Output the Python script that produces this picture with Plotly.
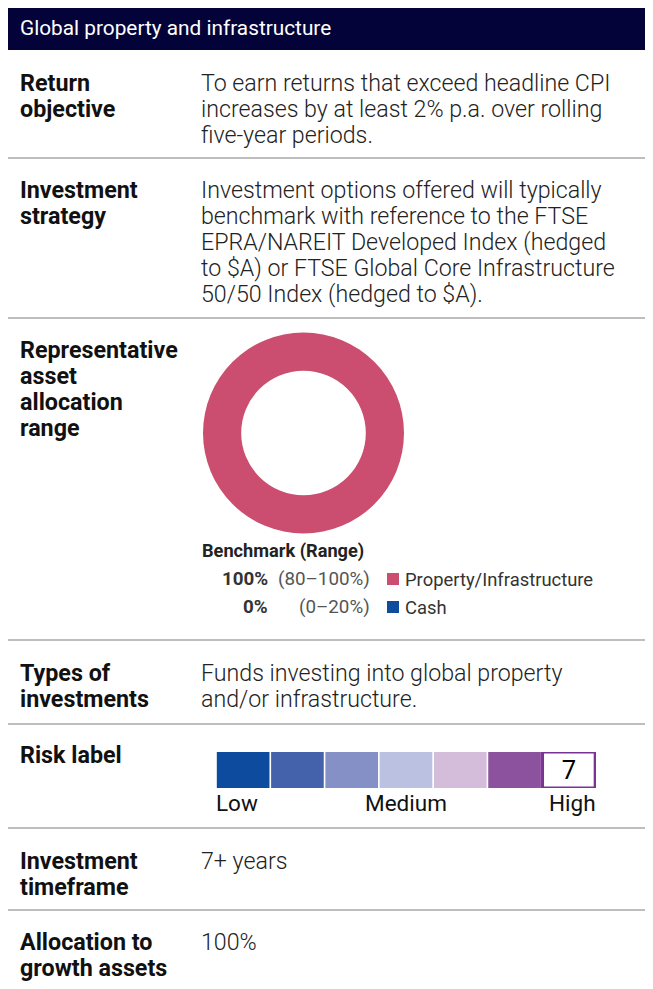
import plotly.graph_objects as go

W, H = 653, 989
OFF = 8  # page margin around the plot div
PAD = 2  # annotation inner padding

HEADER = "Global property and infrastructure"

row_labels = [
    ["Return", "objective"],
    ["Investment", "strategy"],
    ["Representative", "asset", "allocation", "range"],
    ["Types of", "investments"],
    ["Risk label"],
    ["Investment", "timeframe"],
    ["Allocation to", "growth assets"],
]
row_values = [
    ["To earn returns that exceed headline CPI",
     "increases by at least 2% p.a. over rolling",
     "five-year periods."],
    ["Investment options offered will typically",
     "benchmark with reference to the FTSE",
     "EPRA/NAREIT Developed Index (hedged",
     "to $A) or FTSE Global Core Infrastructure",
     "50/50 Index (hedged to $A)."],
    [],
    ["Funds investing into global property",
     "and/or infrastructure."],
    [],
    ["7+ years"],
    ["100%"],
]
row_first_line = [83, 190, 350, 673, 755, 861, 942]   # centre of first text line, px from top
LINE = 26
separators = [158, 318, 640, 724, 828, 910]

asset_classes = ["Property/Infrastructure", "Cash"]
benchmark = [100, 0]
ranges = ["(80–100%)", "(0–20%)"]
asset_colors = ["#cb4d6f", "#0f4c9e"]

risk_levels = [1, 2, 3, 4, 5, 6, 7]
risk_colors = ["#0d4b9f", "#4462ac", "#8490c6", "#bbc1e1", "#d3bdda", "#8c529e", "#ffffff"]
risk_band = 7
risk_names = ["Low", "Medium", "High"]

NAVY = "#03033a"
PURPLE = "#7b3295"
FONT = "Roboto"


def fx(x):
    return (x - OFF) / W


def fy(y):
    return 1 - (y - OFF) / H


fig = go.Figure()

# donut
fig.add_trace(go.Pie(
    labels=asset_classes, values=benchmark, hole=0.62, sort=False,
    marker=dict(colors=asset_colors, line=dict(width=0)),
    textinfo="none", hoverinfo="label+percent", showlegend=False,
    domain=dict(x=[fx(203), fx(404)], y=[fy(533.5), fy(332.5)]),
))

# risk scale
fig.add_trace(go.Bar(
    x=risk_levels, y=[1] * len(risk_levels), width=0.97,
    marker=dict(
        color=risk_colors,
        line=dict(color=[PURPLE if r == risk_band else "rgba(0,0,0,0)" for r in risk_levels],
                  width=[3 if r == risk_band else 0 for r in risk_levels]),
    ),
    text=[str(r) if r == risk_band else "" for r in risk_levels],
    textposition="inside", insidetextanchor="middle", textangle=0,
    textfont=dict(family=FONT, size=29, color="#000000"),
    showlegend=False, hoverinfo="skip",
))

shapes = [dict(type="rect", xref="paper", yref="paper", x0=fx(8), x1=fx(680), y0=fy(50), y1=fy(4),
               fillcolor=NAVY, line=dict(width=0), layer="below")]
for s in separators:
    shapes.append(dict(type="line", xref="paper", yref="paper", x0=fx(8), x1=fx(680), y0=fy(s), y1=fy(s),
                       line=dict(color="#a9a9a9", width=1.5)))


def line_note(text, x, y, size, color, weight="normal", anchor="left"):
    xp = x - PAD if anchor == "left" else x + PAD if anchor == "right" else x
    return dict(text=text, xref="paper", yref="paper", x=fx(xp), y=fy(y),
                xanchor=anchor, yanchor="middle", showarrow=False,
                font=dict(family=FONT, size=size, color=color, weight=weight))


annotations = [line_note(HEADER, 20, 28, 20.8, "#ffffff")]

for labs, vals, y0 in zip(row_labels, row_values, row_first_line):
    for k, t in enumerate(labs):
        annotations.append(line_note(t, 20, y0 + LINE * k, 23.3, "#111111", "bold"))
    for k, t in enumerate(vals):
        annotations.append(line_note(t, 201, y0 + LINE * k, 23.2, "#222222", 300))

# benchmark key
annotations.append(line_note("Benchmark (Range)", 202, 551, 18.2, "#222222", "bold"))
for i, (name, val, rng, col) in enumerate(zip(asset_classes, benchmark, ranges, asset_colors)):
    yc = 579 + 28 * i
    annotations.append(line_note(f"{val}%", 268, yc, 18.8, "#333333", "bold", "right"))
    annotations.append(line_note(rng, 370, yc, 18.8, "#555555", "normal", "right"))
    annotations.append(line_note(name, 405, yc, 18.4, "#333333"))
    shapes.append(dict(type="rect", xref="paper", yref="paper", x0=fx(387), x1=fx(399),
                       y0=fy(yc + 6), y1=fy(yc - 6), fillcolor=col, line=dict(width=0)))

# risk scale names, anchored to the scale's own axis
for name, xv, anc, sh in zip(risk_names, [0.515, 4, 7.485], ["left", "center", "right"], [-2.5, 0, 2.5]):
    annotations.append(dict(text=name, xref="x", yref="paper", x=xv, y=fy(803), xshift=sh,
                            xanchor=anc, yanchor="middle", showarrow=False,
                            font=dict(family=FONT, size=22.5, color="#111111")))

fig.update_layout(
    width=W, height=H, margin=dict(l=0, r=0, t=0, b=0),
    paper_bgcolor="white", plot_bgcolor="rgba(0,0,0,0)",
    xaxis=dict(domain=[fx(216), fx(596)], range=[0.5, 7.5], visible=False, fixedrange=True),
    yaxis=dict(domain=[fy(788), fy(752)], range=[0, 1], visible=False, fixedrange=True),
    shapes=shapes, annotations=annotations,
    font=dict(family=FONT),
)

fig.write_html("out.html")
